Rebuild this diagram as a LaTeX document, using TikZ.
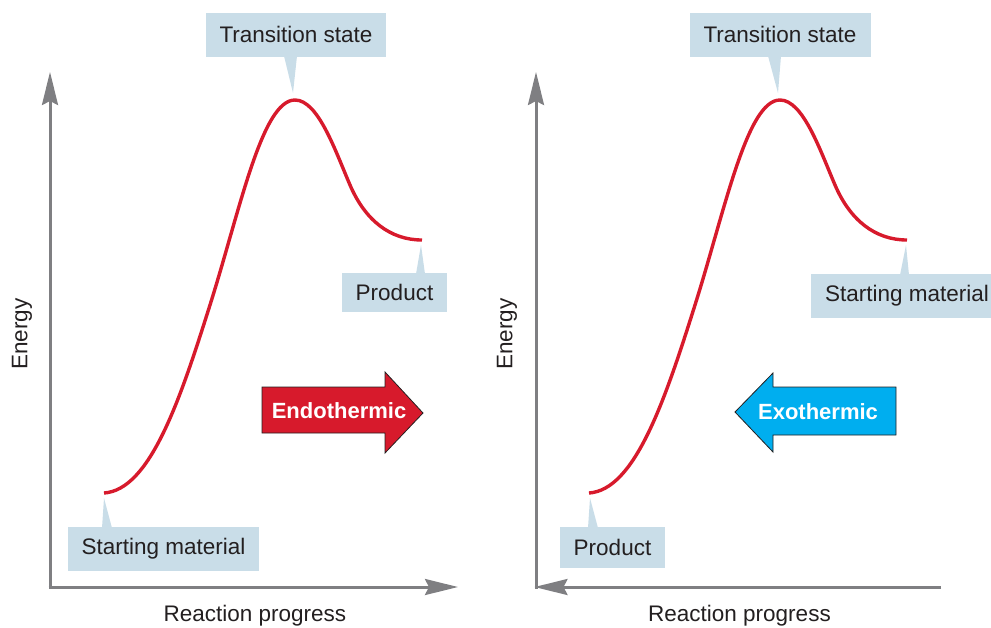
\documentclass[tikz,border=0pt]{standalone}
\usepackage{fontspec}
\setmainfont{Liberation Sans}
\usetikzlibrary{arrows.meta}
\definecolor{curvered}{HTML}{D71A2C}
\definecolor{axisgray}{HTML}{7F7F82}
\definecolor{boxblue}{HTML}{C9DDE8}
\definecolor{inkdark}{HTML}{231F20}
\definecolor{exocyan}{HTML}{00AEEF}
\begin{document}
\begin{tikzpicture}[x=1pt,y=-1pt,
  axis/.style={draw=axisgray, line width=3pt, -{Stealth[length=33pt,width=16pt,inset=4pt]}},
  energy/.style={draw=curvered, line width=3.4pt},
  callout/.style={fill=boxblue, text=inkdark, font=\fontsize{22.5}{27}\selectfont, inner xsep=14pt, inner ysep=0pt, minimum height=44pt},
  pointer/.style={fill=boxblue},
  blockarrow/.style={draw=inkdark, line width=0.8pt},
  arrowtext/.style={text=white, font=\bfseries\fontsize{22}{26}\selectfont},
  axlabel/.style={text=inkdark, font=\fontsize{22.5}{27}\selectfont}]
\useasboundingbox (0,0) rectangle (991,627);
\clip (0,0) rectangle (991,627);

% ---------- left panel ----------
\coordinate (LYb) at (50,588.5);
\coordinate (LYt) at (50,72);
\coordinate (LXb) at (48.5,587);
\coordinate (LXt) at (458,587);
\draw[axis] (LYb) -- (LYt);
\draw[axis] (LXb) -- (LXt);

\coordinate (LS) at (104,493);
\coordinate (LP) at (295,100);
\coordinate (LE) at (422,240);
\draw[energy] (LS) .. controls (150,490) and (180,400) .. (210,305)
  .. controls (240,210) and (262,100) .. (LP)
  .. controls (318,100) and (335,150) .. (350,185)
  .. controls (365,220) and (390,240) .. (LE);

\node[callout] (lts) at (296,34.5) {Transition state};
\fill[pointer] (284,56) -- (297,56) -- (293,93) -- cycle;
\node[callout, minimum height=39pt] (lprod) at (394.5,292.5) {Product};
\fill[pointer] (416,274) -- (425,274) -- (421,245) -- cycle;
\node[callout] (lsm) at (163.5,549) {Starting material};
\fill[pointer] (102,528) -- (112,528) -- (104,498) -- cycle;

\draw[blockarrow, fill=curvered] (262,387) -- (385,387) -- (385,372) -- (423,413)
  -- (385,453) -- (385,433) -- (262,433) -- cycle;
\node[arrowtext] (endo) at (339,411) {Endothermic};

\node[axlabel, rotate=90] (lenergy) at (22,334) {Energy};
\node[axlabel] (lrp) at (255,616) {Reaction progress};

% ---------- right panel ----------
\coordinate (RYb) at (536,588.5);
\coordinate (RYt) at (536,72);
\coordinate (RXb) at (941,587);
\coordinate (RXt) at (534.5,587);
\draw[axis] (RYb) -- (RYt);
\draw[axis] (RXb) -- (RXt);

\begin{scope}[xshift=485pt]
\coordinate (RS) at (104,493);
\coordinate (RP) at (295,100);
\coordinate (RE) at (422,240);
\draw[energy] (RS) .. controls (150,490) and (180,400) .. (210,305)
  .. controls (240,210) and (262,100) .. (RP)
  .. controls (318,100) and (335,150) .. (350,185)
  .. controls (365,220) and (390,240) .. (RE);
\end{scope}

\node[callout] (rts) at (780,34.5) {Transition state};
\fill[pointer] (768,56) -- (781,56) -- (778,93) -- cycle;
\node[callout, anchor=west] (rsm) at (811,296) {Starting material};
\fill[pointer] (900,275) -- (909,275) -- (906,245) -- cycle;
\node[callout, minimum height=41pt] (rprod) at (612.5,547.5) {Product};
\fill[pointer] (588,528) -- (598,528) -- (590,498) -- cycle;

\draw[blockarrow, fill=exocyan] (896,387) -- (773,387) -- (773,373) -- (735,412)
  -- (773,452) -- (773,435) -- (896,435) -- cycle;
\node[arrowtext] (exo) at (818,412) {Exothermic};

\node[axlabel, rotate=90] (renergy) at (507,334) {Energy};
\node[axlabel] (rrp) at (739.5,616) {Reaction progress};
\end{tikzpicture}
\end{document}
